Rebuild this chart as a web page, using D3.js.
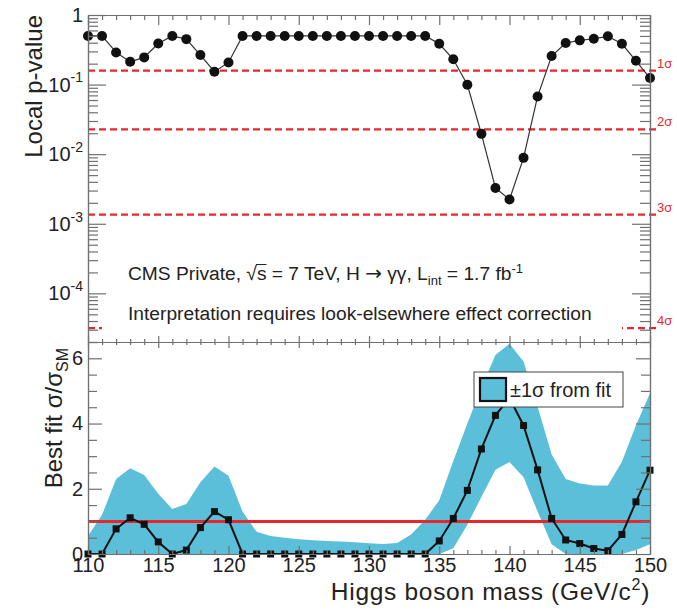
<!DOCTYPE html>
<html>
<head>
<meta charset="utf-8">
<script src="https://cdn.jsdelivr.net/npm/d3@7"></script>
<style>
  body { margin: 0; background: #fff; }
  svg { display: block; font-family: "Liberation Sans", Arial, Helvetica, sans-serif; }
</style>
</head>
<body>
<svg id="chart" width="677" height="610"></svg>
<script>
// Higgs mass hypotheses (GeV/c^2)
const masses = [110,111,112,113,114,115,116,117,118,119,120,121,122,123,124,125,126,127,128,129,130,
                131,132,133,134,135,136,137,138,139,140,141,142,143,144,145,146,147,148,149,150];

// Local p-value at each mass
const pValues = [0.5,0.5,0.29,0.213,0.246,0.39,0.5,0.45,0.266,0.153,0.208,
                 0.5,0.5,0.5,0.5,0.5,0.5,0.5,0.5,0.5,0.5,0.5,0.5,0.5,0.5,
                 0.386,0.231,0.0994,0.0196,0.00327,0.00223,0.00885,0.0676,0.257,0.396,0.432,0.456,0.494,0.386,0.22,0.124];

// Best-fit signal strength sigma/sigma_SM
const bestFit = [0,0,0.77,1.11,0.91,0.37,0,0.12,0.81,1.30,1.05,
                 0,0,0,0,0,0,0,0,0,0,0,0,0,0,
                 0.40,1.09,1.95,3.22,4.25,4.78,3.94,2.58,1.09,0.43,0.32,0.17,0.10,0.60,1.60,2.57];

// +-1 sigma band from the fit
const bandLow = [0,0,0,0,0,0,0,0,0,0,0,
                 0,0,0,0,0,0,0,0,0,0,0,0,0,0,
                 0,0.18,0.9,1.75,2.58,2.82,2.35,1.3,0.3,0,0,0,0,0,0.12,0.3];
const bandHigh = [0.55,1.2,2.3,2.63,2.42,1.85,1.38,1.53,2.2,2.68,2.4,
                  1.3,0.68,0.55,0.5,0.45,0.42,0.4,0.38,0.36,0.33,0.31,0.34,0.6,1.05,
                  1.65,2.85,4.0,5.1,6.1,6.45,5.9,4.52,3.05,2.3,2.16,2.1,2.1,2.83,3.95,4.93];

// Significance reference levels
const sigmaNames = ["1σ","2σ","3σ","4σ"];
const sigmaPValues = [0.1587,0.02275,0.00135,3.167e-5];

// Axis ticks
const xMajorTicks = [110,115,120,125,130,135,140,145,150];
const pMajorTicks = [1,1e-1,1e-2,1e-3,1e-4];
const pTickBase = ["1","10","10","10","10"];
const pTickExp = ["","-1","-2","-3","-4"];
const fitMajorTicks = [0,2,4,6];
const smReference = [1];

const svg = d3.select("#chart");
const L = 88, R = 650, T1 = 15, B1 = 342, B2 = 554;
const axisColor = "#707070";
const bandColor = "#5cbfd9";
const red = "#e8262b";

const x = d3.scaleLinear().domain([110,150]).range([L,R]);
const yP = d3.scaleLog().domain([2e-5,1]).range([B1,T1]);
const yF = d3.scaleLinear().domain([0,6.5]).range([B2,B1]);

const xMinor = d3.range(110,151,1).filter(v => v % 5 !== 0);
const pMinor = [];
for (let e = -5; e <= -1; e++) for (let m = 2; m <= 9; m++) {
  const v = m * Math.pow(10, e);
  if (v >= 2e-5 && v < 1) pMinor.push(v);
}
const fMinor = d3.range(0.5,6.6,0.5).filter(v => Math.abs(v % 2) > 1e-9);

function styleAxis(g) {
  g.selectAll("path.domain").attr("stroke", axisColor).attr("stroke-width", 1.2);
  g.selectAll(".tick line").attr("stroke", axisColor).attr("stroke-width", 1.2);
  g.selectAll(".tick text").attr("fill", "#222").attr("font-family", null);
}
function addAxis(axis, tx, ty) {
  return svg.append("g").attr("transform", `translate(${tx},${ty})`).call(axis).call(styleAxis);
}

// ---------- Upper panel: local p-value ----------
const upper = svg.append("g");

// significance lines
upper.selectAll("line.sig").data(sigmaPValues).join("line")
  .attr("x1", L).attr("x2", R + 6)
  .attr("y1", d => yP(d)).attr("y2", d => yP(d))
  .attr("stroke", red).attr("stroke-width", 2.2).attr("stroke-dasharray", "7,4");
upper.selectAll("text.sig").data(sigmaPValues).join("text")
  .attr("x", R + 7).attr("y", d => yP(d) - 3)
  .attr("font-size", 13).attr("fill", red)
  .text((d, i) => sigmaNames[i]);

// p-value curve
const pts = masses.map((m, i) => [m, pValues[i]]);
upper.append("path").datum(pts)
  .attr("fill", "none").attr("stroke", "#333").attr("stroke-width", 1.2)
  .attr("d", d3.line().x(d => x(d[0])).y(d => yP(d[1])));
upper.selectAll("circle").data(pts).join("circle")
  .attr("cx", d => x(d[0])).attr("cy", d => yP(d[1])).attr("r", 5)
  .attr("fill", "#111");

// text box
upper.append("rect").attr("x", 102).attr("y", 300).attr("width", 520).attr("height", 34).attr("fill", "#fff");
const t1 = upper.append("text").attr("x", 128).attr("y", 280).attr("font-size", 19.2).attr("fill", "#222");
t1.append("tspan").text("CMS Private, √s = 7 TeV, H ");
t1.append("tspan").attr("font-family", "DejaVu Sans").attr("font-size", 20).text("→");
t1.append("tspan").text(" γγ, L");
t1.append("tspan").attr("font-size", 13).attr("dy", 5).text("int");
t1.append("tspan").attr("dy", -5).text(" = 1.7 fb");
t1.append("tspan").attr("font-size", 13).attr("dy", -7).text("-1");
{
  const n = t1.node();
  const r0 = n.getExtentOfChar(13), r1 = n.getExtentOfChar(14);
  upper.append("line")
    .attr("x1", r0.x + r0.width - 1).attr("x2", r1.x + r1.width)
    .attr("y1", r0.y + 1.5).attr("y2", r0.y + 1.5)
    .attr("stroke", "#222").attr("stroke-width", 1);
}
upper.append("text").attr("x", 128).attr("y", 320).attr("font-size", 19.2).attr("fill", "#222")
  .text("Interpretation requires look-elsewhere effect correction");

// axes of upper panel
addAxis(d3.axisLeft(yP).tickValues(pMinor).tickSize(-10).tickSizeOuter(0).tickFormat(""), L, 0);
addAxis(d3.axisLeft(yP).tickValues(pMajorTicks).tickSize(-18).tickSizeOuter(0).tickFormat(""), L, 0);
addAxis(d3.axisRight(yP).tickValues(pMinor).tickSize(-10).tickSizeOuter(0).tickFormat(""), R, 0);
addAxis(d3.axisRight(yP).tickValues(pMajorTicks).tickSize(-18).tickSizeOuter(0).tickFormat(""), R, 0);
addAxis(d3.axisTop(x).tickValues(xMinor).tickSize(-5).tickSizeOuter(0).tickFormat(""), 0, T1);
addAxis(d3.axisTop(x).tickValues(xMajorTicks).tickSize(-10).tickSizeOuter(0).tickFormat(""), 0, T1);
addAxis(d3.axisBottom(x).tickValues(xMinor).tickSize(-3).tickSizeOuter(0).tickFormat(""), 0, B1);
addAxis(d3.axisBottom(x).tickValues(xMajorTicks).tickSize(-6).tickSizeOuter(0).tickFormat(""), 0, B1);

// log axis labels
const pl = svg.append("g").selectAll("text").data(pMajorTicks).join("text")
  .attr("x", L - 5).attr("y", d => yP(d)).attr("dy", "0.35em")
  .attr("text-anchor", "end").attr("font-size", 20).attr("fill", "#222");
pl.append("tspan").text((d, i) => pTickBase[i]);
pl.append("tspan").attr("font-size", 14).attr("dy", "-0.65em").text((d, i) => pTickExp[i]);

svg.append("text").attr("transform", `translate(42,${T1}) rotate(-90)`)
  .attr("text-anchor", "end").attr("font-size", 24).attr("fill", "#222")
  .text("Local p-value");

// ---------- Lower panel: best fit ----------
const lower = svg.append("g");
const bandPts = masses.map((m, i) => ({m, lo: bandLow[i], hi: bandHigh[i]}));
lower.append("path").datum(bandPts)
  .attr("fill", bandColor)
  .attr("d", d3.area().x(d => x(d.m)).y0(d => yF(d.lo)).y1(d => yF(d.hi)));

lower.selectAll("line.sm").data(smReference).join("line")
  .attr("x1", L).attr("x2", R).attr("y1", d => yF(d)).attr("y2", d => yF(d))
  .attr("stroke", red).attr("stroke-width", 3);

const fitPts = masses.map((m, i) => [m, bestFit[i]]);
lower.append("path").datum(fitPts)
  .attr("fill", "none").attr("stroke", "#111").attr("stroke-width", 2)
  .attr("d", d3.line().x(d => x(d[0])).y(d => yF(d[1])));
lower.selectAll("path.sq").data(fitPts).join("path")
  .attr("class", "sq")
  .attr("transform", d => `translate(${x(d[0])},${yF(d[1])})`)
  .attr("d", d3.symbol(d3.symbolSquare, 49)())
  .attr("fill", "#111");

addAxis(d3.axisLeft(yF).tickValues(fMinor).tickSize(-9).tickSizeOuter(0).tickFormat(""), L, 0);
addAxis(d3.axisLeft(yF).tickValues(fitMajorTicks).tickSize(-14).tickSizeOuter(0).tickPadding(5).tickFormat(d3.format("d")), L, 0)
  .selectAll(".tick text").attr("font-size", 20);
addAxis(d3.axisRight(yF).tickValues(fMinor).tickSize(-9).tickSizeOuter(0).tickFormat(""), R, 0);
addAxis(d3.axisRight(yF).tickValues(fitMajorTicks).tickSize(-14).tickSizeOuter(0).tickFormat(""), R, 0);
addAxis(d3.axisTop(x).tickValues(xMinor).tickSize(-3).tickSizeOuter(0).tickFormat(""), 0, B1);
addAxis(d3.axisTop(x).tickValues(xMajorTicks).tickSize(-6).tickSizeOuter(0).tickFormat(""), 0, B1);
addAxis(d3.axisBottom(x).tickValues(xMinor).tickSize(-4).tickSizeOuter(0).tickFormat(""), 0, B2);
addAxis(d3.axisBottom(x).tickValues(xMajorTicks).tickSize(-8).tickSizeOuter(0).tickPadding(4).tickFormat(d3.format("d")), 0, B2)
  .selectAll(".tick text").attr("font-size", 20);

const yt = svg.append("text").attr("transform", `translate(62,348) rotate(-90)`)
  .attr("text-anchor", "end").attr("font-size", 24).attr("fill", "#222");
yt.append("tspan").text("Best fit σ/σ");
yt.append("tspan").attr("font-size", 16).attr("dy", 6).text("SM");

const xt = svg.append("text").attr("x", R).attr("y", 600)
  .attr("text-anchor", "end").attr("font-size", 24.5).attr("letter-spacing", 0.7).attr("fill", "#222");
xt.append("tspan").text("Higgs boson mass (GeV/c");
xt.append("tspan").attr("font-size", 16).attr("dy", -10).text("2");
xt.append("tspan").attr("dy", 10).text(")");

// legend
const lg = svg.append("g");
lg.append("rect").attr("x", 474).attr("y", 372).attr("width", 149).attr("height", 35)
  .attr("fill", "#fff").attr("stroke", "#444").attr("stroke-width", 1);
lg.append("rect").attr("x", 480).attr("y", 378).attr("width", 26).attr("height", 23)
  .attr("fill", bandColor).attr("stroke", "#111").attr("stroke-width", 2.2);
lg.append("text").attr("x", 510).attr("y", 397).attr("font-size", 20).attr("fill", "#222")
  .text("±1σ from fit");
</script>
</body>
</html>
